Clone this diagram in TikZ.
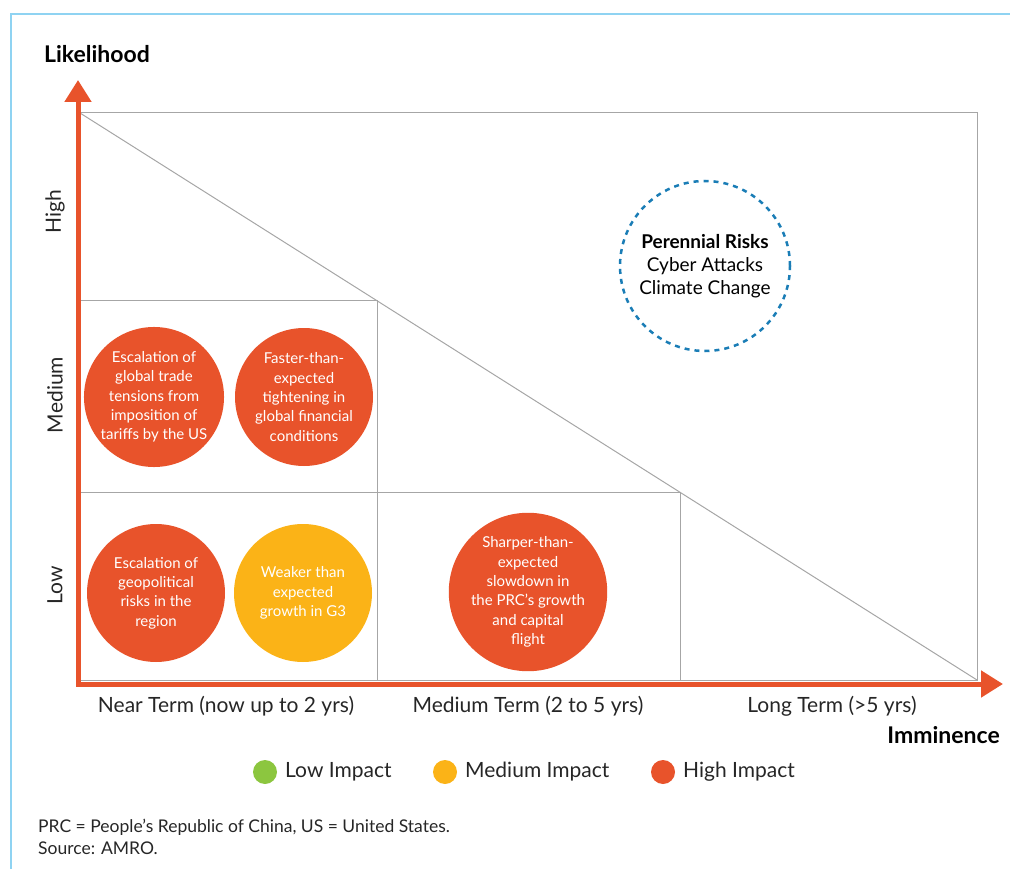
\documentclass[tikz,border=0pt]{standalone}
\usepackage{fontspec}
\setmainfont{Lato}
\usetikzlibrary{arrows.meta}
\definecolor{riskred}{HTML}{E8532B}
\definecolor{riskyellow}{HTML}{FBB317}
\definecolor{riskgreen}{HTML}{8CC63F}
\definecolor{riskblue}{HTML}{1A7DB6}
\definecolor{framebl}{HTML}{8FD3F2}
\begin{document}
\begin{tikzpicture}[x=1pt,y=-1pt]
\tikzstyle{every node}+=[inner sep=0pt]
\tikzstyle{grid}=[draw=black!35, line width=1pt]
\tikzstyle{axis}=[draw=riskred, line width=5pt, -{Triangle[length=22pt,width=26pt]}]
\tikzstyle{risk}=[circle, minimum size=138pt, text=white, align=center, font=\fontsize{15}{19.3}\selectfont]
\tikzstyle{tick}=[font=\fontsize{21}{24}\selectfont, text=black!85]
\tikzstyle{dot}=[circle, minimum size=24pt]
\useasboundingbox (0,0) rectangle (1010,869);
% frame
\draw [framebl, line width=1.2pt] (11,869) -- (11,14) -- (1010,14);
% grid
\draw [grid] (80,113) rectangle (977,680);
\draw [grid] (80,301) -- (377,301) -- (377,680);
\draw [grid] (80,492) -- (680,492) -- (680,680);
\draw [grid] (80,113) -- (977,680);
% axes
\draw [axis] (78,686) -- (78,80);
\draw [axis] (76,684) -- (1003,684);
\node [font=\fontsize{23}{26}\selectfont\bfseries] (ylab) at (97,54) {Likelihood};
\node [font=\fontsize{23}{26}\selectfont\bfseries, anchor=east] (xlab) at (1000,735) {Imminence};
\node [tick, rotate=90] (high) at (55,212) {High};
\node [tick, rotate=90] (med) at (55,395) {Medium};
\node [tick, rotate=90] (low) at (55,585) {Low};
\node [tick] (near) at (226,706) {Near Term (now up to 2 yrs)};
\node [tick] (mid) at (528,706) {Medium Term (2 to 5 yrs)};
\node [tick] (long) at (832,706) {Long Term (>5 yrs)};
% risks
\node [risk, fill=riskred] (trade) at (154,397) {Escalation of\\global trade\\tensions from\\imposition of\\tariffs by the US};
\node [risk, fill=riskred] (fin) at (304,397) {Faster-than-\\expected\\tightening in\\global financial\\conditions};
\node [risk, fill=riskred] (geo) at (156,593) {Escalation of\\geopolitical\\risks in the\\region};
\node [risk, fill=riskyellow] (gthree) at (303,593) {Weaker than\\expected\\growth in G3};
\node [risk, fill=riskred] (prc) at (528,592) {Sharper-than-\\expected\\slowdown in\\the PRC’s growth\\and capital\\flight};
\node [circle, minimum size=170pt, draw=riskblue, line width=2.5pt, dash pattern=on 5pt off 5pt, align=center, font=\fontsize{19}{23}\selectfont] (perennial) at (705,266) {\textbf{Perennial Risks}\\Cyber Attacks\\Climate Change};
% legend
\node [dot, fill=riskgreen] (lowdot) at (265,772) {};
\node [tick, anchor=west] (lowtxt) at (285,772) {Low Impact};
\node [dot, fill=riskyellow] (meddot) at (445,772) {};
\node [tick, anchor=west] (medtxt) at (465,772) {Medium Impact};
\node [dot, fill=riskred] (highdot) at (663,772) {};
\node [tick, anchor=west] (hightxt) at (683,772) {High Impact};
% notes
\node [anchor=west, align=left, font=\fontsize{17.5}{22}\selectfont, text=black!85] (notes) at (38,837) {PRC = People’s Republic of China, US = United States.\\Source: AMRO.};
\end{tikzpicture}
\end{document}
